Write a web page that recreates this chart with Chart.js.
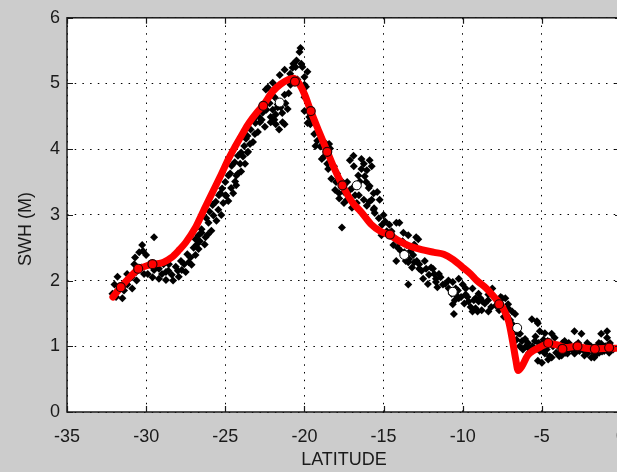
<!DOCTYPE html>
<html>
<head>
<meta charset="utf-8">
<script src="https://cdn.jsdelivr.net/npm/chart.js@4.4.1/dist/chart.umd.min.js"></script>
<style>
html, body { margin: 0; padding: 0; background: #cccccc; overflow: hidden; }
#wrap { width: 640px; height: 472px; }
</style>
</head>
<body>
<div id="wrap"><canvas id="chart" width="640" height="472"></canvas></div>
<script>
// Axis ticks
const xTicks = [-35, -30, -25, -20, -15, -10, -5, 0];
const yTicks = [0, 1, 2, 3, 4, 5, 6];

const obsLat = [
  -32.13,-32.0,-31.88,-31.81,-31.5,-31.69,-31.31,-31.06,-30.88,-30.63,-30.44,-30.25,-30.0,-29.5,-29.81,-29.5,-29.19,-29.19,-28.75,-28.75,-28.38,-28.13,-27.94,-27.75,-27.5,-27.31,-27.13,-26.88,-26.69,-26.88,-26.5,-30.75,-31.19,-30.13,-28.56,
  -31.9,-31.4,-31.2,-30.9,-30.6,-30.3,-29.9,-29.6,-29.4,-29.0,-28.9,-28.6,-28.3,-28.0,-27.8,-27.6,-27.4,-27.2,-27.0,-26.8,-26.6,-26.3,-26.1,-30.7,-30.2,
  -26.5,-26.69,-26.06,-25.75,-25.44,-25.13,-24.94,-24.63,-24.38,-24.19,-24.06,-23.88,-23.44,-23.13,-22.5,-22.13,-22.31,-21.88,-21.69,-21.25,-26.25,-25.88,-25.56,-25.25,-24.81,-24.5,-24.31,-24.0,-23.75,-23.56,-23.25,-22.94,-22.81,-22.63,-25.31,-24.69,-23.69,-23.19,
  -26.0,-25.8,-25.6,-25.4,-25.2,-25.0,-24.8,-24.6,-24.4,-24.2,-24.0,-23.8,-23.6,-23.4,-23.1,-22.9,-22.7,-22.4,-22.2,-22.0,-21.9,-21.6,-21.4,-21.2,-21.0,-20.9,-20.7,-20.5,-20.2,-20.0,-19.9,-26.2,-25.0,-24.3,-23.6,
  -22.44,-22.0,-21.56,-21.25,-20.75,-20.56,-20.13,-19.81,-20.31,-20.25,-21.5,-21.81,-22.13,-21.81,-21.38,-21.06,-21.25,-21.69,-20.44,-20.88,-20.0,
  -20.0,-20.0,-19.69,-19.63,-19.38,-19.19,-19.0,-18.75,-18.44,-18.38,-18.13,-17.94,-17.81,-18.06,-17.13,-16.88,-16.25,-16.06,-15.88,-15.75,-16.19,-16.5,-15.88,-15.63,-17.13,-17.31,-16.69,-16.06,-15.63,-17.5,-17.63,-15.94,-16.56,-16.25,-15.75,-18.56,-17.63,-17.0,-16.38,-15.25,-15.56,-15.0,-14.63,-14.19,
  -19.8,-19.5,-19.3,-18.9,-18.7,-18.5,-18.3,-18.0,-17.8,-17.5,-17.3,-17.0,-16.8,-16.6,-16.4,-16.1,-15.9,-15.6,-15.4,-15.3,-15.1,-14.9,-14.8,-16.9,-16.4,
  -15.13,-14.38,-14.0,-13.69,-13.38,-13.06,-12.81,-13.06,-13.44,-12.75,-12.31,-12.13,-12.5,-11.69,-11.25,-10.88,-10.44,-10.0,-9.81,-10.25,-10.63,-9.63,-9.19,-13.44,-8.88,-9.38,-14.0,-13.75,-13.44,-12.94,-13.56,-13.13,-12.75,-11.88,-11.5,-11.69,-10.63,-10.25,-9.81,-9.19,-8.75,-9.38,-10.44,-10.56,
  -14.5,-14.3,-14.1,-13.9,-13.8,-13.6,-13.3,-13.2,-12.9,-12.6,-12.4,-12.2,-12.0,-11.8,-11.6,-11.4,-11.1,-10.9,-10.7,-10.5,-10.3,-10.1,-9.9,-9.7,-9.5,-9.3,-9.0,-8.8,-8.6,-8.4,-8.2,-7.9,-7.7,-7.6,-14.2,
  -8.13,-8.38,-7.31,-7.13,-6.88,-6.69,-6.56,-6.38,-6.06,-5.88,-5.63,-5.31,-5.13,-4.81,-4.38,-4.38,-4.81,-5.25,-3.75,-3.38,-2.94,-2.5,-2.31,-1.88,-1.5,-1.06,-0.88,-1.25,-2.13,-9.06,-8.38,-9.0,-7.5,-7.13,-7.19,-6.88,-6.5,-6.25,-5.88,-5.25,-4.63,-4.19,-3.75,-1.25,-0.88,-2.94,-2.13,-1.69,-4.0,-3.25,-2.63,-2.0,-1.38,-0.75,-3.56,-5.44,-5.13,
  -7.4,-7.0,-6.8,-6.6,-6.4,-6.2,-6.0,-5.8,-5.6,-5.4,-5.2,-5.0,-4.9,-4.7,-4.5,-4.3,-4.1,-3.9,-3.7,-3.5,-3.3,-3.1,-2.9,-2.7,-2.4,-2.2,-1.9,-1.7,-1.4,-1.2,-1.0,-0.7,-0.5,-4.6,-5.0
];
const obsSwh = [
  1.80,1.94,1.83,2.06,1.73,1.91,1.98,2.03,1.88,2.13,2.43,2.54,2.39,2.66,2.25,2.16,2.18,2.03,2.13,2.01,2.09,2.21,2.06,2.16,2.13,2.28,2.24,2.39,2.48,2.63,2.73,2.25,1.94,2.1,2.25,
  1.75,1.85,2.1,2.05,2.0,2.2,2.1,2.05,2.2,2.1,2.25,2.15,2.0,2.15,2.3,2.25,2.4,2.35,2.5,2.55,2.6,2.55,2.7,2.35,2.45,
  2.78,2.69,2.88,2.99,3.08,3.18,3.29,3.41,3.51,3.63,3.78,3.89,4.08,4.23,4.34,4.49,4.94,4.79,4.64,4.38,2.66,2.76,2.91,3.0,3.21,3.33,3.45,3.66,3.78,3.96,4.11,4.26,4.41,4.56,3.33,3.63,4.16,4.46,
  3.05,3.15,3.2,3.3,3.4,3.5,3.6,3.75,3.8,3.9,3.95,4.05,4.2,4.3,4.4,4.5,4.45,4.6,4.7,4.6,4.45,4.3,4.55,4.7,4.85,5.15,5.3,5.35,5.3,5.1,4.95,2.95,3.3,3.6,3.95,
  4.91,5.01,5.13,5.21,5.24,5.25,5.25,5.18,5.48,5.54,4.64,4.53,4.41,4.38,4.41,4.61,4.83,4.68,5.06,4.98,4.98,
  4.79,4.58,4.49,4.38,4.23,4.13,4.04,3.89,4.08,4.01,3.74,3.63,3.33,3.38,3.83,3.74,3.78,3.68,3.83,3.74,3.59,3.51,3.44,3.33,3.38,3.23,3.18,3.14,3.08,3.18,2.81,3.41,3.3,3.23,3.23,3.78,3.51,3.11,3.03,3.23,3.03,3.0,2.85,2.88,
  4.4,4.45,4.05,3.85,4.1,3.7,3.55,3.5,3.25,3.35,3.5,3.4,3.3,3.6,3.7,3.5,3.2,3.1,3.35,2.95,2.85,2.9,2.75,3.9,3.85,
  2.69,2.54,2.58,2.43,2.33,2.28,2.63,2.55,2.28,2.18,2.18,2.09,2.03,2.03,1.94,1.88,1.88,1.94,1.79,1.73,1.64,1.68,1.58,1.94,1.73,1.88,2.88,2.73,2.69,2.66,2.54,2.39,2.25,2.18,2.1,1.98,1.98,2.03,1.88,1.73,1.68,1.53,1.79,1.49,
  2.75,2.65,2.5,2.45,2.6,2.3,2.45,2.2,2.3,2.15,2.3,1.95,2.2,2.1,1.9,2.05,1.95,2.0,1.8,1.7,1.85,1.75,1.65,1.75,1.6,1.7,1.8,1.55,1.65,1.7,1.6,1.62,1.55,1.75,2.3,
  1.88,1.79,1.73,1.64,1.53,1.49,1.28,1.19,1.11,1.05,1.41,1.38,1.23,1.2,1.19,0.83,0.89,0.78,0.86,0.89,1.23,1.19,0.86,0.83,0.89,0.93,1.23,1.04,1.05,1.53,1.53,1.68,1.73,1.58,1.46,1.34,1.2,1.08,0.98,1.35,1.08,1.13,0.93,1.19,1.13,0.89,0.89,0.83,1.01,0.96,0.93,1.01,0.9,0.9,1.08,1.08,0.93,
  1.45,1.4,1.2,1.1,1.0,0.95,1.0,0.9,1.0,1.15,1.05,0.95,1.1,0.95,0.85,1.0,0.9,0.85,1.05,0.9,1.05,0.95,0.9,1.05,0.95,0.9,1.0,0.9,1.05,0.92,1.0,1.05,0.95,0.8,0.75
];

// Model SWH (thick red line)
const modelLat = [-32.1,-31.6,-31.0,-30.5,-29.9,-29.5,-28.9,-28.4,-27.9,-27.5,-26.9,-26.5,-25.9,-25.25,-24.8,-24.4,-23.9,-23.5,-23.0,-22.6,-22.0,-21.5,-21.0,-20.7,-20.4,-20.0,-19.6,-19.1,-18.55,-18.1,-17.6,-17.0,-16.4,-15.8,-15.2,-14.6,-14.0,-13.4,-12.6,-11.8,-11.2,-10.6,-10.0,-9.5,-9.1,-8.5,-7.9,-7.5,-7.1,-6.85,-6.65,-6.5,-6.25,-5.9,-5.5,-5.1,-4.6,-4.0,-3.5,-2.8,-2.2,-1.6,-0.6,-0.3];
const modelSwh = [1.75,1.9,2.06,2.17,2.23,2.25,2.28,2.35,2.47,2.58,2.8,3.0,3.3,3.62,3.85,4.03,4.24,4.4,4.56,4.67,4.88,4.99,5.06,5.08,5.02,4.84,4.58,4.28,3.96,3.7,3.45,3.2,3.04,2.86,2.75,2.69,2.6,2.53,2.47,2.43,2.4,2.32,2.2,2.1,2.0,1.88,1.72,1.6,1.38,1.08,0.8,0.63,0.7,0.86,0.94,0.99,1.04,1.02,0.98,1.0,0.97,0.96,0.97,0.97];

// Circle markers on the model line and on the observations
const markLat = [-31.6,-30.5,-29.6,-22.6,-20.6,-19.6,-18.56,-17.6,-14.6,-7.7,-4.6,-3.7,-2.75,-1.65,-0.75];
const markSwh = [1.9,2.18,2.25,4.66,5.03,4.58,3.96,3.45,2.7,1.64,1.05,0.96,1.0,0.96,0.98];
const openLat = [-21.56,-16.69,-13.69,-10.63,-6.56];
const openSwh = [4.71,3.45,2.39,1.83,1.28];

const pairs = (xs, ys) => xs.map((x, i) => ({ x: x, y: ys[i] }));
const FONT = { family: 'Liberation Sans, Arial, sans-serif', size: 18 };
const INK = '#1a1a1a';

// white plot area, box, inward ticks and the y label
const frame = {
  id: 'frame',
  beforeDraw(chart) {
    const { ctx, chartArea: a } = chart;
    ctx.save();
    ctx.fillStyle = '#ffffff';
    ctx.fillRect(a.left, a.top, a.right - a.left, a.bottom - a.top);
    ctx.restore();
  },
  afterDraw(chart) {
    const { ctx, chartArea: a, scales } = chart;
    ctx.save();
    ctx.strokeStyle = INK;
    ctx.lineWidth = 1.5;
    ctx.strokeRect(a.left, a.top, a.right - a.left, a.bottom - a.top);
    ctx.lineWidth = 1.2;
    ctx.beginPath();
    xTicks.forEach(v => {
      const px = Math.round(scales.x.getPixelForValue(v)) + 0.5;
      ctx.moveTo(px, a.bottom); ctx.lineTo(px, a.bottom - 6);
      ctx.moveTo(px, a.top); ctx.lineTo(px, a.top + 6);
    });
    yTicks.forEach(v => {
      const py = Math.round(scales.y.getPixelForValue(v)) + 0.5;
      ctx.moveTo(a.left, py); ctx.lineTo(a.left + 6, py);
      ctx.moveTo(a.right, py); ctx.lineTo(a.right - 6, py);
    });
    ctx.stroke();
    ctx.translate(26, 229);
    ctx.rotate(-Math.PI / 2);
    ctx.font = '18px ' + FONT.family;
    ctx.fillStyle = INK;
    ctx.textAlign = 'center';
    ctx.textBaseline = 'middle';
    ctx.fillText('SWH (M)', 0, 0);
    ctx.restore();
  }
};

const ctx = document.getElementById('chart').getContext('2d');
new Chart(ctx, {
  type: 'scatter',
  data: {
    datasets: [
      {
        data: pairs(openLat, openSwh),
        pointStyle: 'circle', pointRadius: 4.5, borderWidth: 1,
        backgroundColor: '#ffffff', borderColor: '#000000', order: 0
      },
      {
        data: pairs(markLat, markSwh),
        pointStyle: 'circle', pointRadius: 4.5, borderWidth: 1.2,
        backgroundColor: '#ff0000', borderColor: '#300000', order: 1
      },
      {
        data: pairs(modelLat, modelSwh),
        showLine: true, pointRadius: 0, borderColor: '#ff0000', borderWidth: 7,
        borderCapStyle: 'round', borderJoinStyle: 'round',
        cubicInterpolationMode: 'monotone', order: 2
      },
      {
        data: pairs(obsLat, obsSwh),
        pointStyle: 'rectRot', pointRadius: 4, borderWidth: 0,
        backgroundColor: '#000000', borderColor: '#000000', order: 3
      }
    ]
  },
  options: {
    responsive: false,
    animation: false,
    events: [],
    layout: { padding: { top: 12, right: 13, left: 0, bottom: 0 } },
    plugins: { legend: { display: false }, tooltip: { enabled: false } },
    scales: {
      x: {
        type: 'linear', min: -35, max: 0,
        afterBuildTicks: s => { s.ticks = xTicks.map(v => ({ value: v })); },
        afterFit: s => { s.height = 60; },
        grid: { color: '#000000', lineWidth: 1, drawTicks: false },
        border: { display: false, dash: [1.5, 6.2] },
        ticks: { padding: 14, font: FONT, color: INK, maxRotation: 0, callback: v => String(v) },
        title: { display: true, text: 'LATITUDE', font: FONT, color: INK, padding: { top: 0, bottom: 1 } }
      },
      y: {
        type: 'linear', min: 0, max: 6,
        afterBuildTicks: s => { s.ticks = yTicks.map(v => ({ value: v })); },
        afterFit: s => { s.width = 67; },
        grid: { color: '#000000', lineWidth: 1, drawTicks: false },
        border: { display: false, dash: [1.5, 6.2] },
        ticks: { padding: 7, font: FONT, color: INK, callback: v => String(v) }
      }
    }
  },
  plugins: [frame]
});
</script>
</body>
</html>
